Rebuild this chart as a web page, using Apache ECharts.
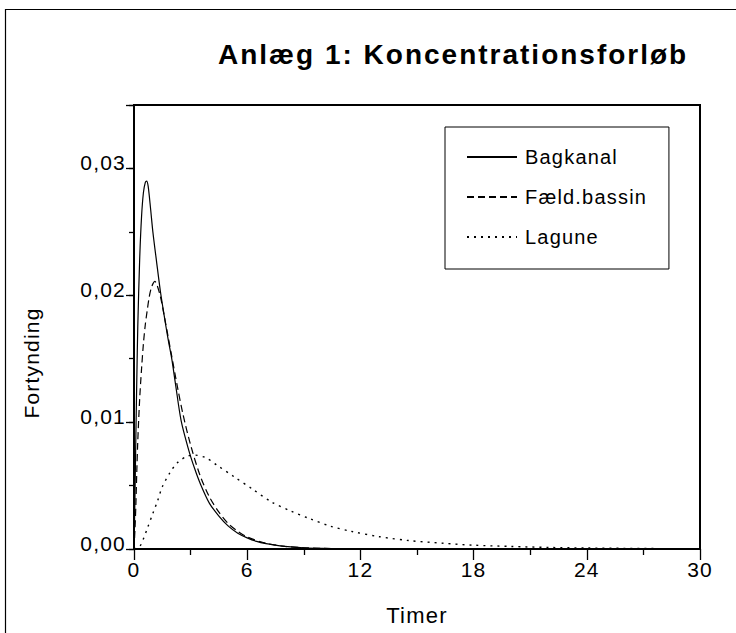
<!DOCTYPE html>
<html>
<head>
<meta charset="utf-8">
<script src="https://cdn.jsdelivr.net/npm/echarts@6/dist/echarts.min.js"></script>
<style>
html, body { margin: 0; padding: 0; background: #fff; }
#chart { width: 736px; height: 633px; }
#chart svg text { letter-spacing: 1.2px; }
#chart svg text[style*="bold"] { letter-spacing: 2px; }
</style>
</head>
<body>
<div id="chart"></div>
<script>
// ---- data ----
const chartTitle = 'Anlæg 1: Koncentrationsforløb';
const xAxisName = 'Timer';
const yAxisName = 'Fortynding';
const seriesNames = ['Bagkanal', 'Fæld.bassin', 'Lagune'];

const bagkanalT = [0, 0.05, 0.1, 0.15, 0.2, 0.3, 0.4, 0.5, 0.6, 0.67, 0.75, 0.88, 1.0, 1.2, 1.4, 1.6, 1.8, 2.0, 2.2, 2.5, 2.9, 3.2, 3.5, 4.0, 4.5, 5.0, 5.5, 6.0, 6.5, 7.0, 7.5, 8.0, 9.0, 10.0, 11.0, 12.5];
const bagkanalV = [0, 0.004, 0.009, 0.0135, 0.0175, 0.0228, 0.0262, 0.0281, 0.0289, 0.0290, 0.0286, 0.0268, 0.0250, 0.0226, 0.0203, 0.0184, 0.0166, 0.0150, 0.0130, 0.0101, 0.0078, 0.0064, 0.0052, 0.0036, 0.0026, 0.0018, 0.00125, 0.00088, 0.0006, 0.00042, 0.0003, 0.0002, 0.0001, 0.00005, 0.00002, 0];

const baessinT = [0, 0.05, 0.1, 0.15, 0.2, 0.3, 0.4, 0.5, 0.6, 0.7, 0.8, 0.9, 1.0, 1.1, 1.2, 1.4, 1.6, 1.8, 2.0, 2.3, 2.6, 3.0, 3.5, 4.0, 4.5, 5.0, 5.5, 6.0, 7.0, 8.0, 9.0, 10.0, 12.5];
const baessinV = [0, 0.0015, 0.0035, 0.0062, 0.0085, 0.0118, 0.0142, 0.0162, 0.0177, 0.0188, 0.0198, 0.0205, 0.0209, 0.0211, 0.0209, 0.0199, 0.0184, 0.0168, 0.0152, 0.0128, 0.0106, 0.0082, 0.0058, 0.0041, 0.0029, 0.0020, 0.0014, 0.00095, 0.00045, 0.00021, 0.0001, 0.00005, 0];

const laguneT = [0, 0.3, 0.5, 0.7, 1.0, 1.25, 1.5, 1.9, 2.3, 2.8, 3.2, 3.8, 4.4, 5.3, 6.3, 7.3, 8.3, 9.3, 10.4, 11.5, 13.0, 14.6, 16.4, 18.0, 20.0, 22.0, 24.0, 26.0, 28.0, 30.0];
const laguneV = [0, 0.0002, 0.0008, 0.0016, 0.0028, 0.0038, 0.0049, 0.0060, 0.0068, 0.0073, 0.0074, 0.0072, 0.0066, 0.0057, 0.0047, 0.0037, 0.0030, 0.0024, 0.0018, 0.0014, 0.00097, 0.00066, 0.00045, 0.0003, 0.0002, 0.00012, 0.00008, 0.00005, 0.00003, 0.00002];

const xMin = 0, xMax = 30, xStep = 6;
const yMin = 0, yMax = 0.035, yStep = 0.01, yMinorStep = 0.005;

// ---- build ----
const FONT = 'Liberation Sans';
function pairs(ts, vs) { return ts.map((t, i) => [t, vs[i]]); }
const dashTypes = ['solid', [7, 4], [2, 5]];
const seriesData = [pairs(bagkanalT, bagkanalV), pairs(baessinT, baessinV), pairs(laguneT, laguneV)];

const chart = echarts.init(document.getElementById('chart'), null, { renderer: 'svg' });
chart.setOption({
  backgroundColor: '#fff',
  animation: false,
  title: {
    text: chartTitle,
    left: 218, top: 40, padding: 0,
    textStyle: { fontFamily: FONT, fontSize: 28, fontWeight: 'bold', color: '#000' }
  },
  graphic: [{
    type: 'rect', silent: true,
    shape: { x: 5.5, y: 9.5, width: 780, height: 680 },
    style: { fill: 'none', stroke: '#000', lineWidth: 1.2 }
  }],
  legend: {
    orient: 'vertical',
    left: 445, top: 127,
    padding: [20, 35, 22, 21],
    itemWidth: 50, itemHeight: 20, itemGap: 20,
    borderColor: '#000', borderWidth: 1,
    backgroundColor: '#fff',
    itemStyle: { opacity: 0 },
    textStyle: { fontFamily: FONT, fontSize: 20, color: '#000', padding: [0, 0, 0, 3] },
    data: seriesNames
  },
  grid: {
    left: 134, top: 105, right: 36, bottom: 84,
    show: true, borderColor: '#000', borderWidth: 2,
    outerBoundsMode: 'none', containLabel: false
  },
  xAxis: {
    type: 'value', min: xMin, max: xMax, interval: xStep,
    axisLine: { show: true, onZero: false, lineStyle: { color: '#000', width: 2 } },
    axisTick: { show: true, length: 11, lineStyle: { color: '#000', width: 1.3 } },
    minorTick: { show: true, splitNumber: 2, length: 6, lineStyle: { color: '#000', width: 1.3 } },
    splitLine: { show: false }, minorSplitLine: { show: false },
    axisLabel: { color: '#000', fontFamily: FONT, fontSize: 21, margin: 10 },
    name: xAxisName, nameLocation: 'middle', nameGap: 55,
    nameTextStyle: { color: '#000', fontFamily: FONT, fontSize: 22 }
  },
  yAxis: [{
    type: 'value', min: yMin, max: yMax, interval: yStep,
    axisLine: { show: true, onZero: false, lineStyle: { color: '#000', width: 2 } },
    axisTick: { show: true, length: 8, lineStyle: { color: '#000', width: 1.3 } },
    splitLine: { show: false },
    axisLabel: {
      color: '#000', fontFamily: FONT, fontSize: 21, margin: 8,
      verticalAlign: 'bottom', lineHeight: 11,
      formatter: function (v) {
        const k = v / yStep;
        if (Math.abs(k - Math.round(k)) > 1e-6) return '';
        return v.toFixed(2).replace('.', ',');
      }
    },
    name: yAxisName, nameLocation: 'middle', nameGap: 92,
    nameTextStyle: { color: '#000', fontFamily: FONT, fontSize: 21, padding: [0, 72, 0, 0] }
  }, {
    type: 'value', min: yMin, max: yMax, interval: yMinorStep, position: 'left',
    axisLine: { show: false },
    axisTick: { show: true, length: 5, lineStyle: { color: '#000', width: 1.3 } },
    axisLabel: { show: false }, splitLine: { show: false }
  }],
  series: seriesNames.map((n, i) => ({
    type: 'line', name: n, data: seriesData[i],
    xAxisIndex: 0, yAxisIndex: 0,
    showSymbol: false, symbol: 'none', smooth: 0.3,
    color: '#000',
    lineStyle: { color: '#000', width: i === 2 ? 1.4 : 1.2, type: dashTypes[i] },
    z: 3
  }))
});
</script>
</body>
</html>
